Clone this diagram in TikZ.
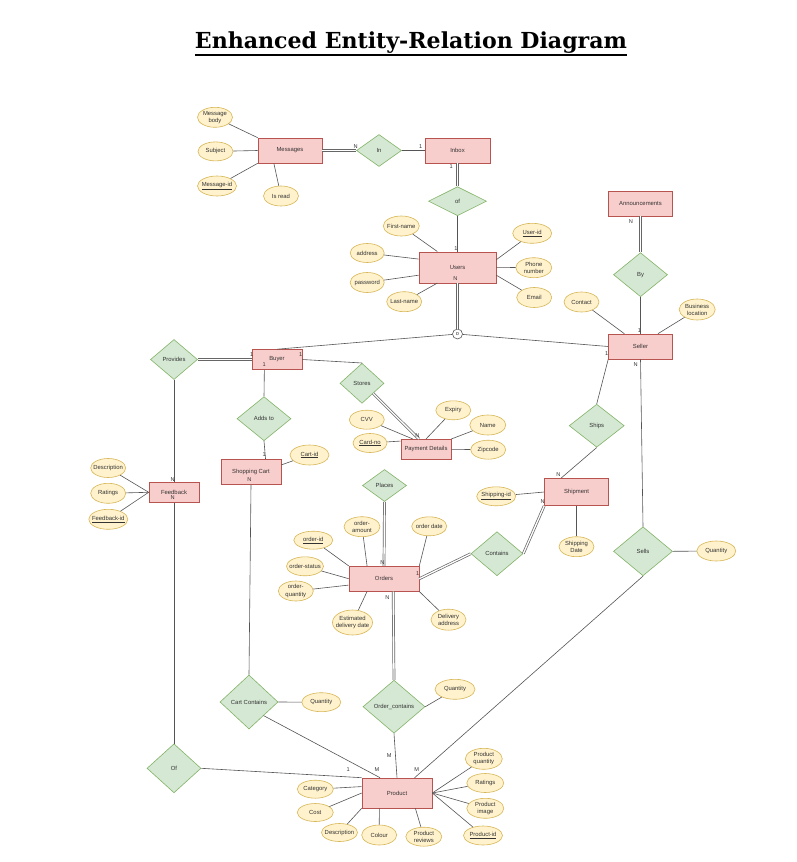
\documentclass[tikz,border=0pt]{standalone}
\usepackage{fontspec}
\setmainfont{Liberation Sans}
\newfontfamily\ttlfam{DejaVu Serif}
\usetikzlibrary{shapes.geometric,calc}
\definecolor{entfill}{HTML}{F8CECC}
\definecolor{entdraw}{HTML}{B85450}
\definecolor{relfill}{HTML}{D5E8D4}
\definecolor{reldraw}{HTML}{82B366}
\definecolor{attfill}{HTML}{FFF2CC}
\definecolor{attdraw}{HTML}{D6B656}
\definecolor{txtc}{HTML}{333333}
\definecolor{lnc}{HTML}{555555}
\definecolor{lncb}{HTML}{666666}
\newcommand\erfont{\fontsize{5.9}{7.2}\selectfont}
\newcommand\crdfont{\fontsize{5.6}{6.5}\selectfont}
\newcommand\zl[1]{\makebox[0pt]{#1}}
\begin{document}
\begin{tikzpicture}[x=1pt,y=-1pt,
  ent/.style 2 args={rectangle, draw=entdraw, fill=entfill, line width=0.6pt, inner sep=0pt, font=\erfont, text=txtc, minimum width=#1pt, minimum height=#2pt},
  rel/.style 2 args={diamond, draw=reldraw, fill=relfill, line width=0.6pt, inner sep=0pt, font=\erfont, text=txtc, minimum width=#1pt, minimum height=#2pt},
  attr/.style 2 args={ellipse, draw=attdraw, fill=attfill, line width=0.6pt, inner sep=0pt, font=\erfont, text=txtc, align=center, minimum width=#1pt, minimum height=#2pt},
  card/.style={inner sep=0pt, font=\crdfont, text=txtc},
  conn/.style={draw=lnc, line width=0.6pt},
  dbl/.style={draw=lncb, double=white, double distance=1.3pt, line width=0.7pt},
]
\fill[white] (0,0) rectangle (797,862);
\useasboundingbox (0,0) rectangle (797,862);

% title
\node[inner sep=0pt, anchor=base, font=\ttlfam\bfseries] (title) at (411,48) {\resizebox{432pt}{!}{Enhanced Entity-Relation Diagram}};
\draw[line width=2pt] ([yshift=-1.6pt]title.south west) -- ([yshift=-1.6pt]title.south east);

% entities
\node[ent={64}{25}] (msgs) at (290,150.5) {Messages};
\node[ent={65}{25}] (inbox) at (457.5,150.5) {Inbox};
\node[ent={77}{31}] (users) at (457.5,267.3) {Users};
\node[ent={64}{25}] (ann) at (640.5,203.3) {Announcements};
\node[ent={64}{25}] (seller) at (640.5,346.5) {Seller};
\node[ent={50}{20}] (buyer) at (277,359.5) {Buyer};
\node[ent={60}{25}] (cart) at (251,471.8) {Shopping Cart};
\node[ent={50}{20}] (feed) at (174,492.3) {Feedback};
\node[ent={50}{20}] (pay) at (426,449.3) {Payment Details};
\node[ent={64}{27}] (ship) at (576.5,492) {Shipment};
\node[ent={70}{25}] (orders) at (384,578.7) {Orders};
\node[ent={70}{30}] (prod) at (397,793) {Product};

% relationships
\node[rel={45}{32}] (rin) at (379,150.5) {In};
\node[rel={58}{29}] (rof) at (457.5,201.2) {of};
\node[rel={54}{44}] (rby) at (640.5,274.7) {By};
\node[rel={47}{40}] (rprov) at (174,359.5) {Provides};
\node[rel={54}{44}] (radd) at (264,418.7) {Adds to};
\node[rel={44}{40}] (rstore) at (362,383.3) {Stores};
\node[rel={44}{32}] (rplace) at (384.5,485.5) {Places};
\node[rel={55}{43}] (rships) at (596.7,425.7) {Ships};
\node[rel={52}{44}] (rcont) at (497,553.7) {Contains};
\node[rel={59}{49}] (rsells) at (643,551.3) {Sells};
\node[rel={58}{54}] (rcc) at (249,702) {Cart Contains};
\node[rel={62}{53}] (roc) at (394,706.7) {Order\_contains};
\node[rel={54}{49}] (rofp) at (174,768.3) {Of};

% disjointness circle
\node[circle, draw=lnc, fill=white, line width=0.6pt, minimum size=10pt, inner sep=0pt, font=\crdfont, text=txtc] (disj) at (457.5,334) {o};

% attributes
\node[attr={35}{20}] (mbody) at (215,117.3) {\zl{Message}\\\zl{body}};
\node[attr={35}{19}] (subj) at (215.5,151.4) {\zl{Subject}};
\node[attr={39}{20}] (mid) at (217,186) {\zl{\underline{Message-id}}};
\node[attr={35}{20}] (isread) at (281,196) {\zl{Is read}};
\node[attr={36}{20}] (fname) at (401.3,226) {\zl{First-name}};
\node[attr={34}{19}] (addr) at (367.2,253) {\zl{address}};
\node[attr={34}{20}] (pwd) at (367.2,282.5) {\zl{password}};
\node[attr={35}{20}] (lname) at (404.2,301.7) {\zl{Last-name}};
\node[attr={39}{20}] (uid) at (532.2,233.3) {\zl{\underline{User-id}}};
\node[attr={36}{20}] (phone) at (533.8,267.7) {\zl{Phone}\\\zl{number}};
\node[attr={35}{20}] (email) at (534.2,297.5) {\zl{Email}};
\node[attr={35}{20}] (contact) at (581.5,302) {\zl{Contact}};
\node[attr={36}{21}] (bloc) at (697.2,309.5) {\zl{Business}\\\zl{location}};
\node[attr={35}{19}] (fdesc) at (108.2,468) {\zl{Description}};
\node[attr={35}{20}] (frat) at (108.2,493.3) {\zl{Ratings}};
\node[attr={39}{20}] (fid) at (108.3,519.3) {\zl{\underline{Feedback-id}}};
\node[attr={39}{20}] (cartid) at (309.5,455) {\zl{\underline{Cart-id}}};
\node[attr={35}{19}] (cvv) at (366.8,419.7) {\zl{CVV}};
\node[attr={34}{19}] (cardno) at (370,443) {\zl{\underline{Card-no}}};
\node[attr={35}{19}] (expiry) at (453.3,410.3) {\zl{Expiry}};
\node[attr={36}{20}] (pname) at (487.8,425) {\zl{Name}};
\node[attr={35}{19}] (zip) at (488.2,449.7) {\zl{Zipcode}};
\node[attr={39}{19}] (shipid) at (496.2,496.3) {\zl{\underline{Shipping-id}}};
\node[attr={35}{20}] (sdate) at (576.5,546.7) {\zl{Shipping}\\\zl{Date}};
\node[attr={39}{20}] (sqty) at (716.3,551) {\zl{Quantity}};
\node[attr={39}{18}] (oid) at (313.3,540.2) {\zl{\underline{order-id}}};
\node[attr={36}{20}] (oamt) at (362,526.7) {\zl{order-}\\\zl{amount}};
\node[attr={35}{19}] (odate) at (429.2,526.3) {\zl{order date}};
\node[attr={37}{19}] (ostat) at (305,566.3) {\zl{order-status}};
\node[attr={35}{20}] (oqty) at (295.8,591) {\zl{order-}\\\zl{quantity}};
\node[attr={40}{25}] (eta) at (352.5,622.5) {\zl{Estimated}\\\zl{delivery date}};
\node[attr={35}{21}] (daddr) at (448.5,619.7) {\zl{Delivery}\\\zl{address}};
\node[attr={39}{19}] (cqty) at (321.3,702.2) {\zl{Quantity}};
\node[attr={40}{20}] (ocqty) at (455,689.3) {\zl{Quantity}};
\node[attr={37}{21}] (pqty) at (483.8,758.8) {\zl{Product}\\\zl{quantity}};
\node[attr={37}{19}] (prat) at (485.3,783) {\zl{Ratings}};
\node[attr={37}{20}] (pimg) at (485.3,808.3) {\zl{Product}\\\zl{image}};
\node[attr={39}{19}] (pid) at (483,835.5) {\zl{\underline{Product-id}}};
\node[attr={36}{18}] (pcat) at (315.3,789.2) {\zl{Category}};
\node[attr={36}{18}] (pcost) at (315.3,812.5) {\zl{Cost}};
\node[attr={36}{18}] (pdesc) at (339.5,832.5) {\zl{Description}};
\node[attr={35}{20}] (pcol) at (379.2,835) {\zl{Colour}};
\node[attr={36}{19}] (prev) at (423.8,836.7) {\zl{Product}\\\zl{reviews}};

% Messages
\draw[conn] (mbody) -- (msgs.north west);
\draw[conn] (subj) -- (msgs.west);
\draw[conn] (mid) -- (msgs.south west);
\draw[conn] (isread) -- ($(msgs.south west)!0.25!(msgs.south east)$);
\draw[dbl] (msgs.east) -- (rin.west);
\draw[conn] (rin.east) -- (inbox.west);
\draw[dbl] (inbox.south) -- (rof.north);
\draw[conn] (rof.south) -- (users.north);
% Users
\draw[conn] (fname) -- ($(users.north west)!0.24!(users.north east)$);
\draw[conn] (addr) -- ($(users.north west)!0.24!(users.south west)$);
\draw[conn] (pwd) -- ($(users.north west)!0.75!(users.south west)$);
\draw[conn] (lname) -- ($(users.south west)!0.24!(users.south east)$);
\draw[conn] (uid) -- ($(users.north east)!0.26!(users.south east)$);
\draw[conn] (phone) -- (users.east);
\draw[conn] (email) -- ($(users.north east)!0.75!(users.south east)$);
\draw[dbl] (users.south) -- (disj.north);
\draw[conn] (disj) -- (buyer.north);
\draw[conn] (disj) -- (seller.west);
% Seller
\draw[dbl] (ann.south) -- (rby.north);
\draw[conn] (rby.south) -- (seller.north);
\draw[conn] (contact) -- ($(seller.north west)!0.25!(seller.north east)$);
\draw[conn] (bloc) -- ($(seller.north west)!0.77!(seller.north east)$);
\draw[conn] (seller.south west) -- (rships.north);
\draw[conn] (rships.south) -- ($(ship.north west)!0.26!(ship.north east)$);
\draw[conn] (seller.south) -- (rsells.north);
\draw[conn] (rsells.east) -- (sqty);
\draw[conn] (rsells.south) -- ($(prod.north west)!0.75!(prod.north east)$);
% Buyer
\draw[dbl] (rprov.east) -- (buyer.west);
\draw[conn] (rprov.south) -- (feed.north);
\draw[conn] ($(buyer.south west)!0.25!(buyer.south east)$) -- (radd.north);
\draw[conn] (radd.south) -- ($(cart.north west)!0.74!(cart.north east)$);
\draw[conn] (cartid) -- ($(cart.north east)!0.23!(cart.south east)$);
\draw[conn] (buyer.east) -- (rstore.north);
\draw[dbl] (rstore.south east) -- ($(pay.north west)!0.36!(pay.north east)$);
% Feedback
\draw[conn] (fdesc) -- (feed.west);
\draw[conn] (frat) -- (feed.west);
\draw[conn] (fid) -- (feed.west);
\draw[conn] (feed.south) -- (rofp.north);
\draw[conn] (rofp.east) -- (prod.north west);
% Payment
\draw[conn] (cvv) -- ($(pay.north west)!0.24!(pay.north east)$);
\draw[conn] (cardno) -- ($(pay.north west)!0.1!(pay.south west)$);
\draw[conn] (expiry) -- (pay.north);
\draw[conn] (pname) -- (pay.north east);
\draw[conn] (zip) -- (pay.east);
% Shipment
\draw[conn] (shipid) -- (ship.west);
\draw[conn] (ship.south) -- (sdate);
\draw[dbl] (ship.south west) -- (rcont.east);
\draw[dbl] (orders.east) -- (rcont.west);
% Orders
\draw[dbl] (rplace.south) -- (orders.north);
\draw[conn] (oid) -- (orders.north west);
\draw[conn] (oamt) -- ($(orders.north west)!0.26!(orders.north east)$);
\draw[conn] (odate) -- (orders.north east);
\draw[conn] (ostat) -- (orders.west);
\draw[conn] (oqty) -- ($(orders.north west)!0.75!(orders.south west)$);
\draw[conn] (eta) -- ($(orders.south west)!0.26!(orders.south east)$);
\draw[conn] (daddr) -- (orders.south east);
\draw[dbl] ($(orders.south west)!0.63!(orders.south east)$) -- (roc.north);
\draw[conn] (roc.east) -- (ocqty);
\draw[conn] (roc.south) -- (prod.north);
% Cart
\draw[conn] (cart.south) -- (rcc.north);
\draw[conn] (rcc.east) -- (cqty);
\draw[conn] (rcc.south east) -- ($(prod.north west)!0.26!(prod.north east)$);
% Product
\draw[conn] (pqty) -- (prod.east);
\draw[conn] (prat) -- (prod.east);
\draw[conn] (pimg) -- (prod.east);
\draw[conn] (pid) -- (prod.east);
\draw[conn] (pcat) -- ($(prod.north west)!0.29!(prod.south west)$);
\draw[conn] (pcost) -- (prod.west);
\draw[conn] (pdesc) -- (prod.south west);
\draw[conn] (pcol) -- ($(prod.south west)!0.25!(prod.south east)$);
\draw[conn] (prev) -- ($(prod.south west)!0.76!(prod.south east)$);

% cardinalities
\node[card] (c1) at (355.7,146.5) {N};
\node[card] (c2) at (420.7,146.7) {1};
\node[card] (c3) at (451.2,167) {1};
\node[card] (c4) at (456,249) {1};
\node[card] (c5) at (455.3,278.3) {N};
\node[card] (c6) at (631,221.7) {N};
\node[card] (c7) at (639.3,330.3) {1};
\node[card] (c8) at (606.7,354) {1};
\node[card] (c9) at (635.7,364.3) {N};
\node[card] (c10) at (251.7,354.3) {1};
\node[card] (c11) at (300.7,354.3) {1};
\node[card] (c12) at (264.3,364.3) {1};
\node[card] (c13) at (172.7,479.3) {N};
\node[card] (c14) at (172.7,497.7) {N};
\node[card] (c15) at (264.3,455) {1};
\node[card] (c16) at (249.3,480) {N};
\node[card] (c17) at (417.3,436) {N};
\node[card] (c18) at (558.3,475) {N};
\node[card] (c19) at (542.7,501.7) {N};
\node[card] (c20) at (417.7,574) {1};
\node[card] (c21) at (382.3,562.7) {N};
\node[card] (c22) at (387.3,597.3) {N};
\node[card] (c23) at (389.3,755.7) {M};
\node[card] (c24) at (348.3,769.3) {1};
\node[card] (c25) at (377,769.3) {M};
\node[card] (c26) at (416.7,769.3) {M};
\end{tikzpicture}
\end{document}
